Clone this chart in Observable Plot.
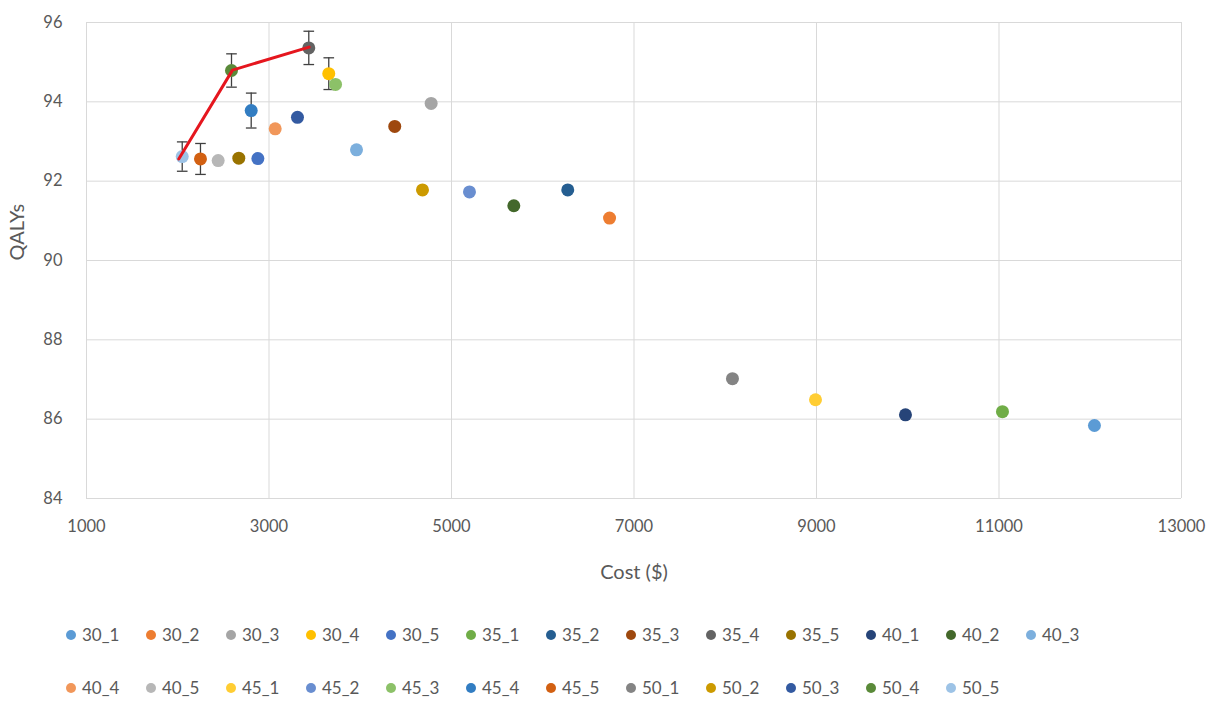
<!DOCTYPE html>
<html>
<head>
<meta charset="utf-8">
<script src="https://cdn.jsdelivr.net/npm/d3@7"></script>
<script src="https://cdn.jsdelivr.net/npm/@observablehq/plot@0.6"></script>
<style>
  html, body { margin: 0; padding: 0; background: #fff; }
  #chart { width: 1217px; }
  #legend { position: absolute; left: 66px; top: 608px; width: 1100px; font-family: Lato, "Open Sans", sans-serif; font-size: 17px; color: #595959; }
  .row { height: 53px; display: flex; align-items: center; }
  .item { width: 80px; display: flex; align-items: center; }
  .sw { width: 10px; height: 10px; border-radius: 50%; margin-right: 6px; }
</style>
</head>
<body>
<div id="chart"></div>
<div id="legend"></div>
<script>
const seriesNames = ["30_1","30_2","30_3","30_4","30_5","35_1","35_2","35_3","35_4","35_5","40_1","40_2","40_3","40_4","40_5","45_1","45_2","45_3","45_4","45_5","50_1","50_2","50_3","50_4","50_5"];
const costs = [12046, 6732, 4777, 3655, 2878, 11038, 6274, 4378, 3436, 2669, 9975, 5683, 3959, 3068, 2443, 8989, 5197, 3729, 2805, 2249, 8079, 4682, 3312, 2589, 2049];
const qalys = [85.84, 91.07, 93.96, 94.71, 92.57, 86.19, 91.78, 93.38, 95.36, 92.58, 86.11, 91.38, 92.79, 93.32, 92.52, 86.49, 91.73, 94.44, 93.78, 92.56, 87.02, 91.78, 93.61, 94.79, 92.62];
const colors = ["#5B9BD5","#ED7D31","#A5A5A5","#FFC000","#4472C4","#70AD47","#255E91","#9E480E","#636363","#997300","#264478","#43682B","#7CAFDD","#F1975A","#B7B7B7","#FFCD33","#698ED0","#8CC168","#327DC2","#D26012","#848484","#CC9A00","#335AA1","#5A8A39","#9DC3E6"];

const errorSeries = ["50_5","45_5","50_4","45_4","35_4","30_4"];
const errorMargins = [0.37, 0.39, 0.42, 0.44, 0.42, 0.40];

const frontierCost = [2011, 2600, 3440];
const frontierQaly = [92.56, 94.80, 95.38];

const xTicks = [1000, 3000, 5000, 7000, 9000, 11000, 13000];
const yTicks = [84, 86, 88, 90, 92, 94, 96];
const xTitle = "Cost ($)";
const yTitle = "QALYs";

const points = seriesNames.map((s, i) => ({series: s, cost: costs[i], qaly: qalys[i], color: colors[i], order: i}));
const errs = errorSeries.map((s, i) => {
  const p = points.find(d => d.series === s);
  return {series: s, cost: p.cost, lo: p.qaly - errorMargins[i], hi: p.qaly + errorMargins[i], order: p.order};
});
const frontier = frontierCost.map((c, i) => ({cost: c, qaly: frontierQaly[i]}));

const capSymbol = {
  draw(context, size) {
    const w = Math.sqrt(size) / 2;
    context.moveTo(-w, 0);
    context.lineTo(w, 0);
  }
};

const seriesMarks = [];
points.forEach(p => {
  const e = errs.filter(d => d.series === p.series);
  if (e.length) {
    seriesMarks.push(Plot.ruleX(e, {x: "cost", y1: "lo", y2: "hi", stroke: "#404040", strokeWidth: 1.3}));
    seriesMarks.push(Plot.dot(e, {x: "cost", y: "lo", symbol: capSymbol, r: 6, stroke: "#404040", strokeWidth: 1.3}));
    seriesMarks.push(Plot.dot(e, {x: "cost", y: "hi", symbol: capSymbol, r: 6, stroke: "#404040", strokeWidth: 1.3}));
  }
  seriesMarks.push(Plot.dot([p], {x: "cost", y: "qaly", r: 6.5, fill: p.color, stroke: "none"}));
});

const chart = Plot.plot({
  width: 1217,
  height: 600,
  marginLeft: 86,
  marginRight: 36,
  marginTop: 22,
  marginBottom: 102,
  style: {fontFamily: "Lato, 'Open Sans', sans-serif", fontSize: "17px", color: "#595959", background: "#fff"},
  x: {domain: [1000, 13000]},
  y: {domain: [84, 96]},
  marks: [
    Plot.gridX(xTicks, {stroke: "#d9d9d9", strokeOpacity: 1, strokeWidth: 1}),
    Plot.gridY(yTicks, {stroke: "#d9d9d9", strokeOpacity: 1, strokeWidth: 1}),
    Plot.axisX(xTicks, {tickSize: 0, tickPadding: 22, tickFormat: d => String(d), label: null, fill: "#595959", fontSize: 16.5}),
    Plot.axisY(yTicks, {tickSize: 0, tickPadding: 24, tickFormat: d => String(d), label: null, fill: "#595959", fontSize: 16.5}),
    Plot.text([xTitle], {text: d => d, frameAnchor: "bottom", dy: 80, fontSize: 20, fill: "#595959"}),
    Plot.text([yTitle], {text: d => d, frameAnchor: "left", dx: -69, rotate: -90, fontSize: 20, fill: "#595959"}),
    ...seriesMarks,
    Plot.line(frontier, {x: "cost", y: "qaly", stroke: "#E5161E", strokeWidth: 3})
  ]
});
document.getElementById("chart").appendChild(chart);

const legend = document.getElementById("legend");
const rows = [seriesNames.slice(0, 13), seriesNames.slice(13)];
rows.forEach(r => {
  const row = document.createElement("div");
  row.className = "row";
  r.forEach(s => {
    const i = seriesNames.indexOf(s);
    const it = document.createElement("div");
    it.className = "item";
    const sw = document.createElement("span");
    sw.className = "sw";
    sw.style.background = colors[i];
    const t = document.createElement("span");
    t.textContent = s;
    it.appendChild(sw);
    it.appendChild(t);
    row.appendChild(it);
  });
  legend.appendChild(row);
});
</script>
</body>
</html>
